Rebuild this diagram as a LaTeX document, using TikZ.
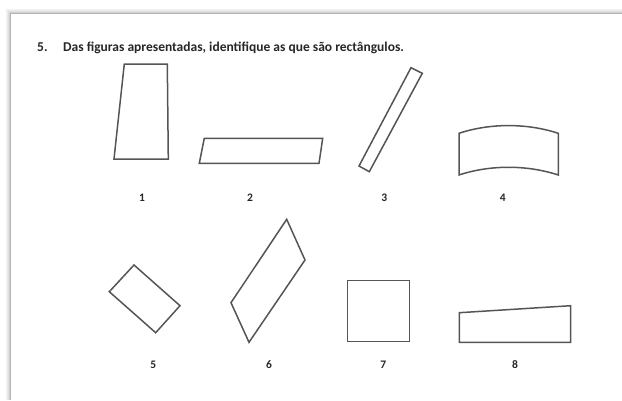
\documentclass[tikz,border=0pt]{standalone}
\usepackage{fontspec}
\setmainfont{Carlito}
\definecolor{shp}{HTML}{555555}
\definecolor{pg}{HTML}{B4B4B4}
\begin{document}
\begin{tikzpicture}[x=1pt,y=-1pt,
  fig/.style={draw=shp,line width=1.5pt,line join=miter},
  lbl/.style={font=\bfseries\fontsize{11.5}{13}\selectfont,text=black!85,inner sep=0pt}]
\useasboundingbox (0,0) rectangle (622,400);
% page edge with shadow
\foreach \d/\o in {4/0.05,3/0.08,2/0.12,1/0.18}{
  \draw[black,opacity=\o,line width=1pt] (10-\d,400) -- (10-\d,13-\d) -- (622,13-\d);
}
\draw[pg,line width=1pt] (10,400) -- (10,13) -- (622,13);
% title
\node[anchor=base west,inner sep=0pt,font=\bfseries\fontsize{13.5}{15}\selectfont,text=black!85] (num) at (37,51) {5.};
\node[anchor=base west,inner sep=0pt,font=\bfseries\fontsize{13.5}{15}\selectfont,text=black!85] (title) at (63,51) {Das figuras apresentadas, identifique as que são rectângulos.};
% shapes
\draw[fig] (124.3,64) -- (167.3,64) -- (168.3,159) -- (114,159) -- cycle;
\draw[fig] (204.3,138.3) -- (322.7,138.3) -- (319,163.3) -- (199.3,163.3) -- cycle;
\draw[fig] (411,67.7) -- (422.3,73.3) -- (369.3,171.7) -- (359,166) -- cycle;
\draw[fig] (459,133.3) .. controls (490,123) and (527,123) .. (558.3,133.3) -- (558.3,175)
  .. controls (527,164.7) and (490,164.7) .. (459,175) -- cycle;
\draw[fig] (134,265) -- (180,305.7) -- (155.7,332.7) -- (109.3,291.7) -- cycle;
\draw[fig] (286.7,219.3) -- (305,260) -- (249,342.3) -- (231,302.7) -- cycle;
\draw[fig] (347.7,280.7) rectangle (409.3,341.7);
\draw[fig] (459.3,312.7) -- (570.7,305.7) -- (570.7,342.3) -- (459.3,342.3) -- cycle;
% labels
\node[lbl] (l1) at (142,198) {1};
\node[lbl] (l2) at (250,198) {2};
\node[lbl] (l3) at (384.3,198) {3};
\node[lbl] (l4) at (502.7,198) {4};
\node[lbl] (l5) at (153.3,365) {5};
\node[lbl] (l6) at (269,365) {6};
\node[lbl] (l7) at (383.3,365) {7};
\node[lbl] (l8) at (515,365) {8};
\end{tikzpicture}
\end{document}
